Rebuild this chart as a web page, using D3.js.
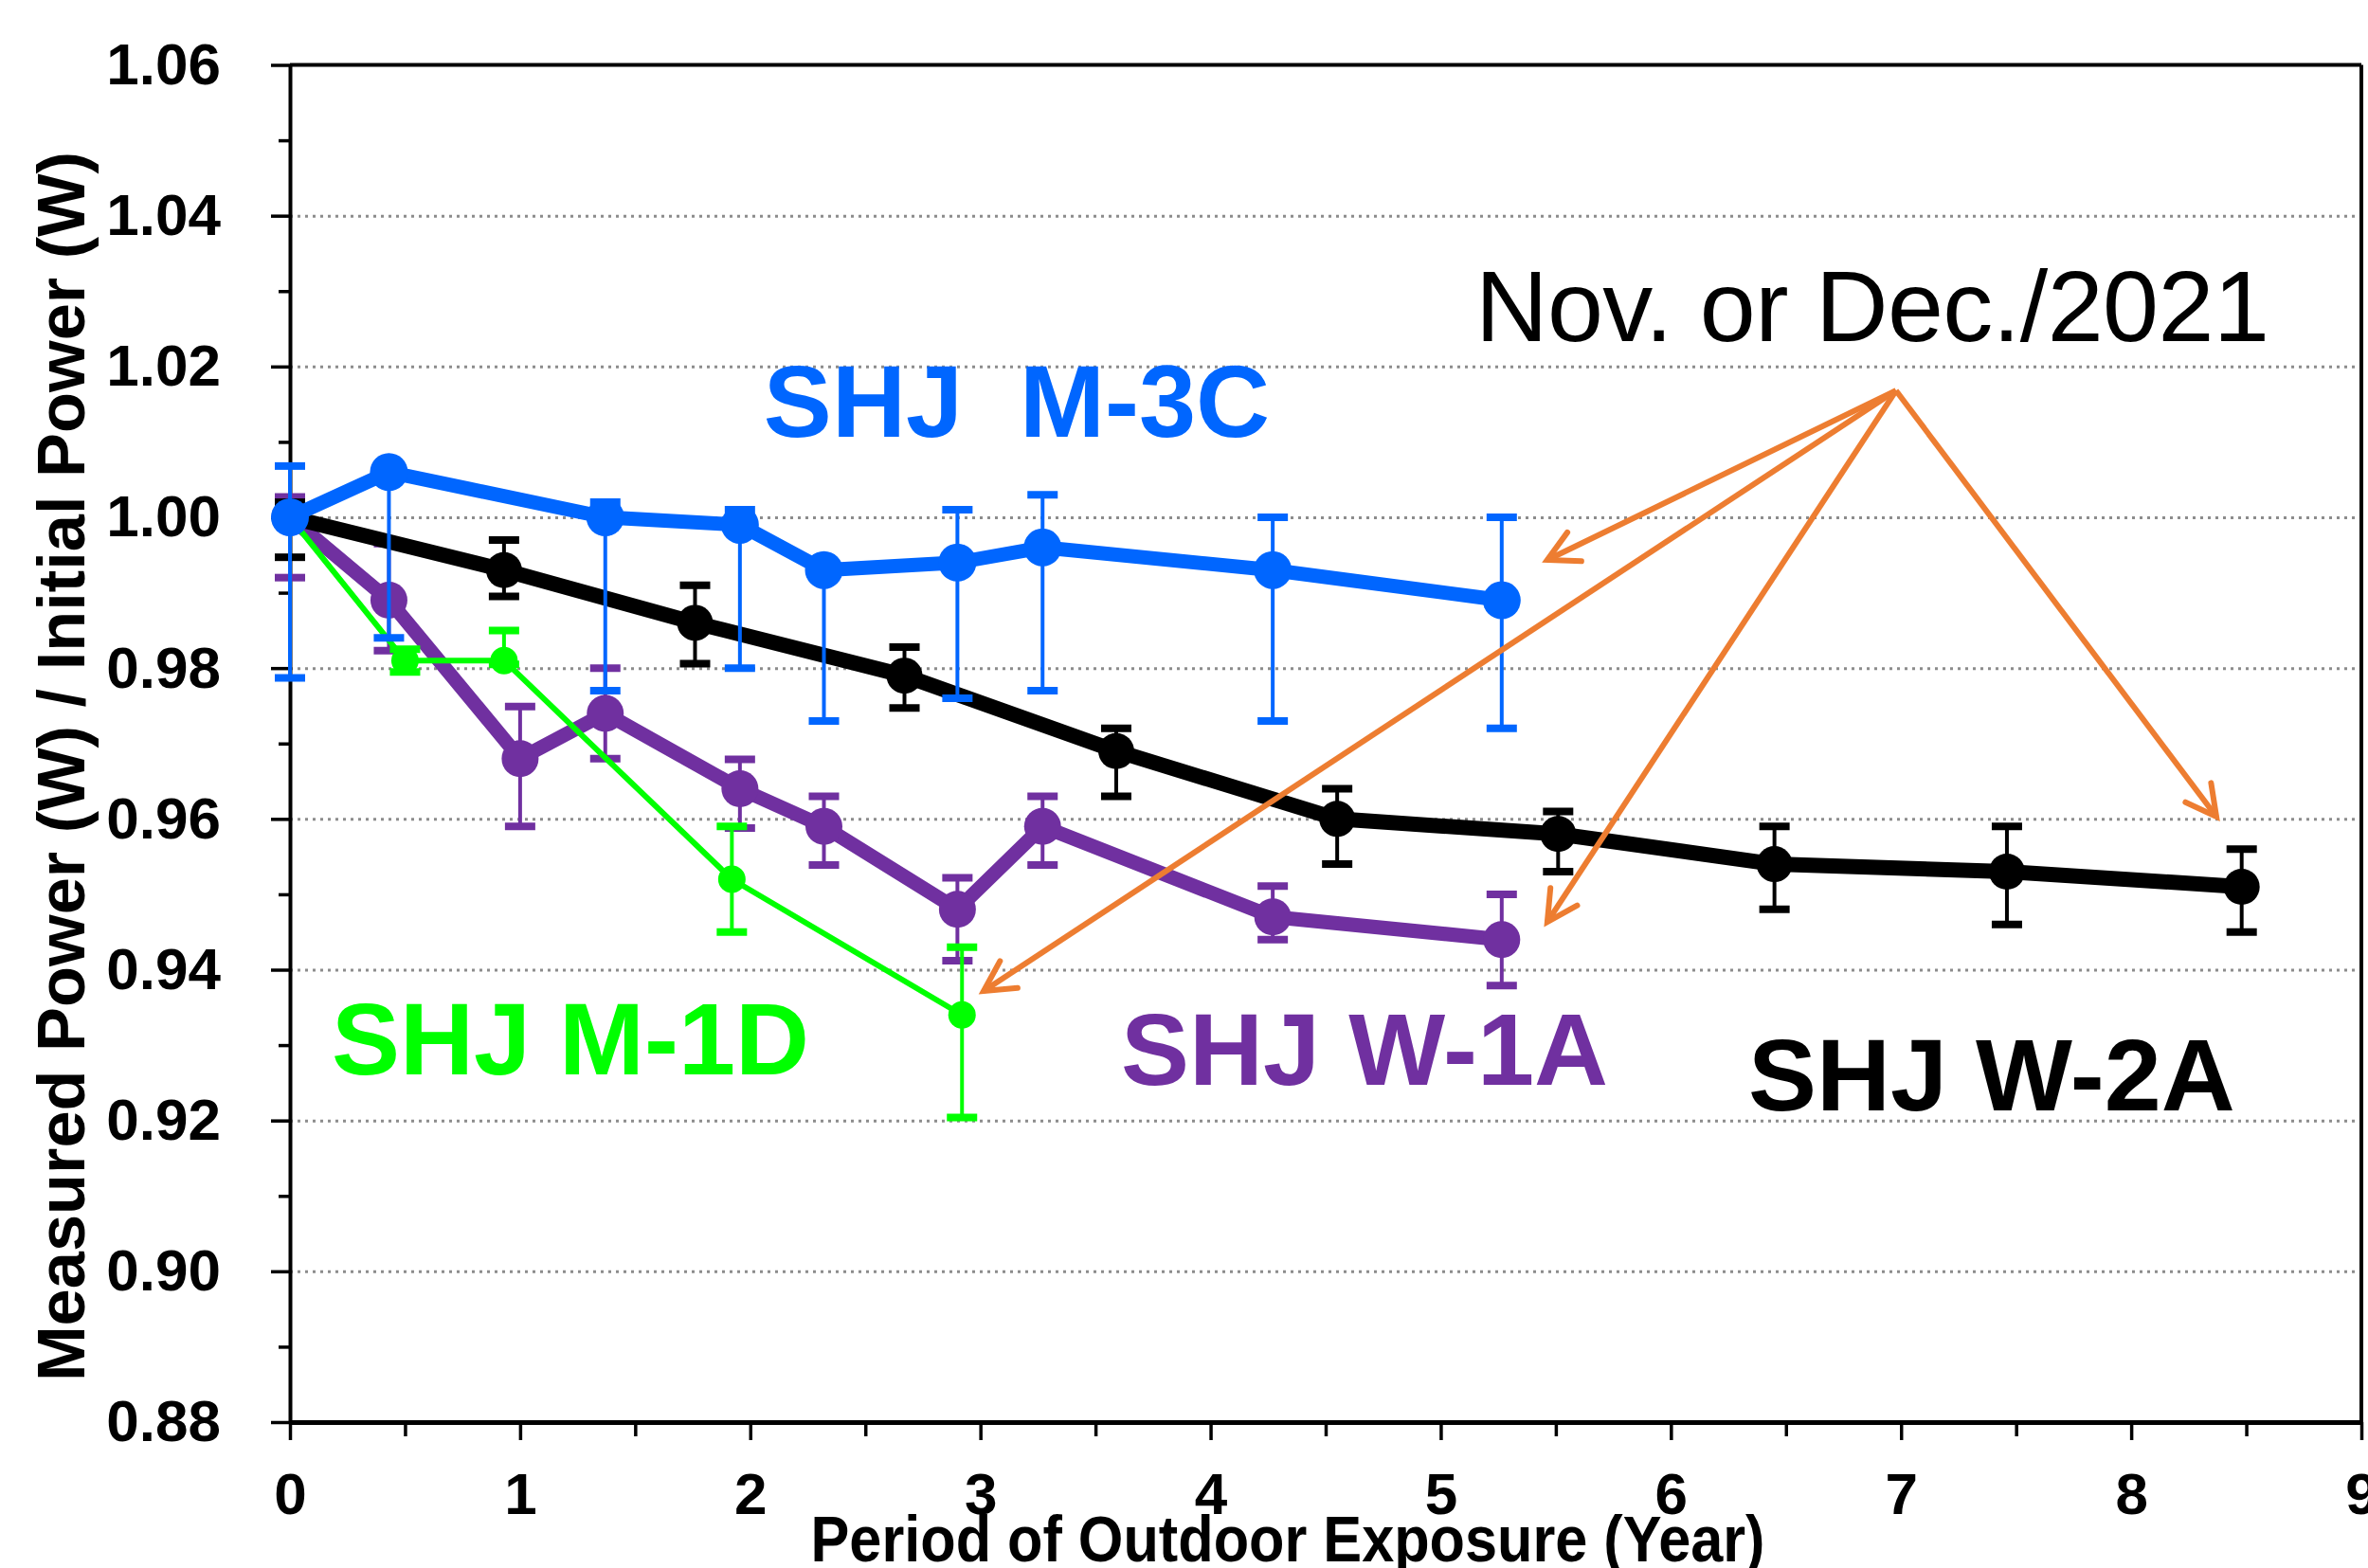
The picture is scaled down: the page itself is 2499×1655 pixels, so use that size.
<!DOCTYPE html>
<html>
<head>
<meta charset="utf-8">
<script src="https://cdn.jsdelivr.net/npm/d3@7"></script>
<style>
body { margin: 0; background: #fff; }
text { font-family: "Liberation Sans", Arial, sans-serif; }
</style>
</head>
<body>
<script>
// axis ticks
const xTicks = [0, 1, 2, 3, 4, 5, 6, 7, 8, 9]
const xMinor = [0.5, 1.5, 2.5, 3.5, 4.5, 5.5, 6.5, 7.5, 8.5]
const yTicks = [0.88, 0.90, 0.92, 0.94, 0.96, 0.98, 1.00, 1.02, 1.04, 1.06]
const yMinor = [0.89, 0.91, 0.93, 0.95, 0.97, 0.99, 1.01, 1.03, 1.05]

// SHJ W-2A (black)
const w2aX = [0, 0.93, 1.76, 2.67, 3.59, 4.55, 5.51, 6.45, 7.46, 8.48]
const w2aY = [1.000, 0.993, 0.986, 0.979, 0.969, 0.960, 0.958, 0.954, 0.953, 0.951]
const w2aLo = [0.0053, 0.0035, 0.0054, 0.0043, 0.006, 0.006, 0.005, 0.006, 0.007, 0.006]
const w2aHi = [0.002, 0.004, 0.005, 0.0038, 0.003, 0.004, 0.003, 0.005, 0.006, 0.005]

// SHJ M-3C (blue)
const m3cX = [0, 0.43, 1.37, 1.955, 2.32, 2.9, 3.27, 4.27, 5.265]
const m3cY = [1.000, 1.006, 1.000, 0.999, 0.993, 0.994, 0.996, 0.993, 0.989]
const m3cLo = [0.0213, 0.022, 0.023, 0.019, 0.020, 0.018, 0.019, 0.020, 0.017]
const m3cHi = [0.0068, 0, 0.002, 0.002, 0, 0.007, 0.007, 0.007, 0.011]

// SHJ W-1A (purple)
const w1aX = [0, 0.43, 1.0, 1.37, 1.955, 2.32, 2.9, 3.27, 4.27, 5.265]
const w1aY = [1.000, 0.989, 0.968, 0.974, 0.964, 0.959, 0.948, 0.959, 0.947, 0.944]
const w1aLo = [0.008, 0.0067, 0.009, 0.006, 0.0052, 0.0051, 0.0068, 0.0051, 0.003, 0.0061]
const w1aHi = [0.0027, 0.0075, 0.0069, 0.006, 0.0039, 0.004, 0.0042, 0.004, 0.0041, 0.006]

// SHJ M-1D (green)
const m1dX = [0, 0.5, 0.93, 1.92, 2.92]
const m1dY = [1.000, 0.981, 0.981, 0.952, 0.934]
const m1dLo = [0.001, 0.0015, 0.0005, 0.007, 0.0136]
const m1dHi = [0.001, 0.0015, 0.004, 0.007, 0.009]

const W = 2499
const H = 1655

const svg = d3.select("body")
              .append("svg")
              .attr("width", W)
              .attr("height", H)

const x = d3.scaleLinear().domain([0, 9]).range([306, 2492])
const y = d3.scaleLinear().domain([0.88, 1.06]).range([1501, 68.5])

// dotted grid
svg.append("g")
   .attr("transform", "translate(" + x(0) + ",0)")
   .call(d3.axisLeft(y)
           .tickValues(yTicks.slice(1, -1))
           .tickSize(-(x(9) - x(0)))
           .tickFormat(""))
   .call(g => g.select(".domain").remove())
   .selectAll("line")
   .attr("stroke", "#8c8c8c")
   .attr("stroke-width", 3)
   .attr("stroke-dasharray", "3,5")

// frame top and right
svg.append("line")
   .attr("x1", x(0)).attr("x2", x(9))
   .attr("y1", y(1.06)).attr("y2", y(1.06))
   .attr("stroke", "#000").attr("stroke-width", 4)
svg.append("line")
   .attr("x1", x(9)).attr("x2", x(9))
   .attr("y1", y(1.06)).attr("y2", y(0.88))
   .attr("stroke", "#000").attr("stroke-width", 4)

// y axis
const yAxis = svg.append("g")
   .attr("transform", "translate(" + x(0) + ",0)")
   .call(d3.axisLeft(y)
           .tickValues(yTicks)
           .tickSize(20)
           .tickSizeOuter(0)
           .tickPadding(53)
           .tickFormat(d3.format(".2f")))
yAxis.select(".domain").attr("stroke-width", 4)
yAxis.selectAll("line").attr("stroke-width", 3.5)
yAxis.selectAll("text")
     .attr("font-size", 62)
     .attr("font-weight", "bold")
     .attr("fill", "#000")

const yAxisMinor = svg.append("g")
   .attr("transform", "translate(" + x(0) + ",0)")
   .call(d3.axisLeft(y).tickValues(yMinor).tickSize(12).tickSizeOuter(0).tickFormat(""))
yAxisMinor.select(".domain").remove()
yAxisMinor.selectAll("line").attr("stroke-width", 3.5)

// x axis
const xAxis = svg.append("g")
   .attr("transform", "translate(0," + y(0.88) + ")")
   .call(d3.axisBottom(x)
           .tickValues(xTicks)
           .tickSize(19)
           .tickSizeOuter(0)
           .tickPadding(34)
           .tickFormat(d3.format("d")))
xAxis.select(".domain").attr("stroke-width", 5)
xAxis.selectAll("line").attr("stroke-width", 3.5)
xAxis.selectAll("text")
     .attr("font-size", 62)
     .attr("font-weight", "bold")
     .attr("fill", "#000")

const xAxisMinor = svg.append("g")
   .attr("transform", "translate(0," + y(0.88) + ")")
   .call(d3.axisBottom(x).tickValues(xMinor).tickSize(15).tickSizeOuter(0).tickFormat(""))
xAxisMinor.select(".domain").remove()
xAxisMinor.selectAll("line").attr("stroke-width", 3.5)

// axis titles
svg.append("text")
   .attr("x", 1359)
   .attr("y", 1648)
   .attr("text-anchor", "middle")
   .attr("font-size", 68)
   .attr("font-weight", "bold")
   .attr("textLength", 1007)
   .attr("lengthAdjust", "spacingAndGlyphs")
   .text("Period of Outdoor Exposure (Year)")

svg.append("text")
   .attr("transform", "translate(89,809) rotate(-90)")
   .attr("text-anchor", "middle")
   .attr("font-size", 70)
   .attr("font-weight", "bold")
   .attr("textLength", 1298)
   .attr("lengthAdjust", "spacingAndGlyphs")
   .text("Measured Power (W) / Initial Power (W)")

// series
const drawSeries = (xs, ys, lo, hi, color, lineW, r, stemW) => {
    const pts = xs.map((d, i) => {
        return {x: d, y: ys[i], lo: lo[i], hi: hi[i]}
    })
    const g = svg.append("g")
    g.append("path")
     .datum(pts)
     .attr("d", d3.line().x(d => x(d.x)).y(d => y(d.y)))
     .attr("fill", "none")
     .attr("stroke", color)
     .attr("stroke-width", lineW)
     .attr("stroke-linejoin", "round")
    g.selectAll(".stem")
     .data(pts)
     .enter()
     .append("line")
     .attr("class", "stem")
     .attr("x1", d => x(d.x)).attr("x2", d => x(d.x))
     .attr("y1", d => y(d.y - d.lo)).attr("y2", d => y(d.y + d.hi))
     .attr("stroke", color)
     .attr("stroke-width", stemW)
    const caps = []
    pts.forEach(d => {
        caps.push({x: d.x, v: d.y - d.lo})
        caps.push({x: d.x, v: d.y + d.hi})
    })
    g.selectAll(".cap")
     .data(caps)
     .enter()
     .append("line")
     .attr("class", "cap")
     .attr("x1", d => x(d.x) - 16).attr("x2", d => x(d.x) + 16)
     .attr("y1", d => y(d.v)).attr("y2", d => y(d.v))
     .attr("stroke", color)
     .attr("stroke-width", 8)
    g.selectAll("circle")
     .data(pts)
     .enter()
     .append("circle")
     .attr("cx", d => x(d.x))
     .attr("cy", d => y(d.y))
     .attr("r", r)
     .attr("fill", color)
}

drawSeries(w1aX, w1aY, w1aLo, w1aHi, "#7030A0", 15, 19.5, 4)
drawSeries(w2aX, w2aY, w2aLo, w2aHi, "#000000", 16, 19, 4)
drawSeries(m1dX, m1dY, m1dLo, m1dHi, "#00FF00", 6, 14.5, 4)
drawSeries(m3cX, m3cY, m3cLo, m3cHi, "#0066FF", 15, 20, 4)

// arrows from the date note
const orange = "#ED7D31"
const arrowFrom = [6.978, 1.0168]
const arrowTo = [[5.463, 0.99435], [3.014, 0.93717], [5.463, 0.94634], [8.37, 0.9603]]
arrowTo.forEach(t => {
    const x0 = x(arrowFrom[0]), y0 = y(arrowFrom[1])
    const x1 = x(t[0]), y1 = y(t[1])
    const a = Math.atan2(y0 - y1, x0 - x1)
    const len = 36, spread = 28 * Math.PI / 180
    svg.append("line")
       .attr("x1", x0).attr("y1", y0).attr("x2", x1).attr("y2", y1)
       .attr("stroke", orange).attr("stroke-width", 6)
    svg.append("path")
       .attr("d", "M" + (x1 + len * Math.cos(a - spread)) + "," + (y1 + len * Math.sin(a - spread)) +
                  "L" + x1 + "," + y1 +
                  "L" + (x1 + len * Math.cos(a + spread)) + "," + (y1 + len * Math.sin(a + spread)))
       .attr("fill", "none")
       .attr("stroke", orange)
       .attr("stroke-width", 6)
       .attr("stroke-linecap", "round")
})

// labels
svg.append("text")
   .attr("x", x(5.15)).attr("y", y(1.0234))
   .attr("font-size", 106)
   .attr("textLength", 838)
   .text("Nov. or Dec./2021")

const label = (txt, lx, ly, color) => {
    svg.append("text")
       .attr("x", x(lx)).attr("y", y(ly))
       .attr("font-size", 108)
       .attr("font-weight", "bold")
       .attr("fill", color)
       .attr("xml:space", "preserve")
       .style("white-space", "pre")
       .text(txt)
}
label("SHJ  M-3C", 2.058, 1.0107, "#0066FF")
label("SHJ M-1D", 0.181, 0.9261, "#00FF00")
label("SHJ W-1A", 3.611, 0.9247, "#7030A0")
label("SHJ W-2A", 6.336, 0.9213, "#000000")
</script>
</body>
</html>
